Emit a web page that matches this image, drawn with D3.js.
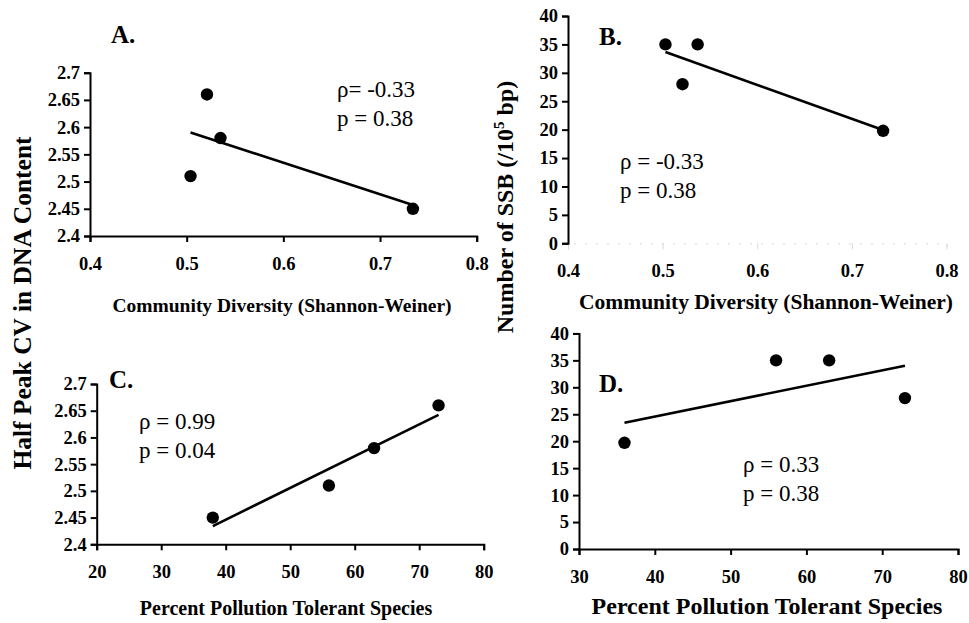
<!DOCTYPE html>
<html>
<head>
<meta charset="utf-8">
<script src="https://cdn.jsdelivr.net/npm/d3@7/dist/d3.min.js"></script>
<style>
    body { margin: 0; background: #fff; }
    svg { display: block; }
</style>
</head>
<body>
<svg width="969" height="623"></svg>
<script>
    // values
    var diversityA = [0.504, 0.521, 0.535, 0.734];
    var dnaCvA = [2.51, 2.66, 2.58, 2.45];

    var diversityB = [0.503, 0.521, 0.537, 0.733];
    var ssbB = [35, 28, 35, 19.8];

    var pollutionC = [38, 56, 63, 73];
    var dnaCvC = [2.45, 2.51, 2.58, 2.66];

    var pollutionD = [36, 56, 63, 73];
    var ssbD = [19.7, 35, 35, 28];

    var cvTicks = [2.4, 2.45, 2.5, 2.55, 2.6, 2.65, 2.7];
    var ssbTicks = [0, 5, 10, 15, 20, 25, 30, 35, 40];
    var diversityTicks = [0.4, 0.5, 0.6, 0.7, 0.8];
    var pollutionTicksC = [20, 30, 40, 50, 60, 70, 80];
    var pollutionTicksD = [30, 40, 50, 60, 70, 80];

    var statsA = ["\u03c1= -0.33", "p = 0.38"];
    var statsB = ["\u03c1 = -0.33", "p = 0.38"];
    var statsC = ["\u03c1 = 0.99", "p = 0.04"];
    var statsD = ["\u03c1 = 0.33", "p = 0.38"];

    var serif = "'Liberation Serif', 'Times New Roman', 'DejaVu Serif', serif";
    var svg = d3.select("svg");

    function font(sel, size, bold) {
        sel.style("font-family", serif)
            .style("font-size", size + "px")
            .style("font-weight", bold ? "bold" : "normal")
            .style("fill", "#000");
        return sel;
    }

    // least squares line through the points
    function fit(xs, ys) {
        var mx = d3.mean(xs), my = d3.mean(ys);
        var sxy = 0, sxx = 0;
        for (var i = 0; i < xs.length; i++) {
            sxy += (xs[i] - mx) * (ys[i] - my);
            sxx += (xs[i] - mx) * (xs[i] - mx);
        }
        var b = sxy / sxx;
        var x0 = d3.min(xs), x1 = d3.max(xs);
        return [{x: x0, y: my + b * (x0 - mx)}, {x: x1, y: my + b * (x1 - mx)}];
    }

    function panel(p) {
        var x = d3.scaleLinear().domain(d3.extent(p.xTicks)).range([p.left, p.right]);
        var y = d3.scaleLinear().domain(d3.extent(p.yTicks)).range([p.bottom, p.top]);
        var fmt = function (d) { return String(+d.toFixed(2)); };

        var xa = svg.append("g")
            .attr("transform", "translate(0," + p.bottom + ")")
            .call(d3.axisBottom(x).tickValues(p.xTicks).tickFormat(fmt).tickSizeOuter(0).tickSize(6).tickPadding(15));
        xa.selectAll("path, line").attr("stroke", p.faintX ? "#d8d8d8" : "#000")
            .attr("stroke-width", p.faintX ? 1 : 2);
        if (p.faintX) xa.select("path").attr("stroke-dasharray", "2,9");
        font(xa.selectAll("text"), 18.5, true);

        var ya = svg.append("g")
            .attr("transform", "translate(" + p.left + ",0)")
            .call(d3.axisLeft(y).tickValues(p.yTicks).tickFormat(fmt).tickSizeOuter(0).tickSize(6).tickPadding(4));
        ya.selectAll("path, line").attr("stroke", "#000").attr("stroke-width", 2);
        font(ya.selectAll("text"), 18.5, true);

        var line = d3.line()
            .x(function (d) { return x(d.x); })
            .y(function (d) { return y(d.y); });
        svg.append("path")
            .datum(fit(p.xs, p.ys))
            .attr("fill", "none")
            .attr("stroke", "#000")
            .attr("stroke-width", 2.6)
            .attr("d", line);

        svg.append("g").selectAll("circle")
            .data(p.xs)
            .join("circle")
            .attr("cx", function (d) { return x(d); })
            .attr("cy", function (d, i) { return y(p.ys[i]); })
            .attr("r", 6.2)
            .attr("fill", "#000");

        font(svg.append("text")
            .attr("x", p.tag[1]).attr("y", p.tag[2])
            .text(p.tag[0]), 25, true);

        font(svg.append("g").selectAll("text")
            .data(p.stats)
            .join("text")
            .attr("x", p.statPos[0])
            .attr("y", function (d, i) { return p.statPos[1] + i * 29; })
            .text(function (d) { return d; }), 23, false);

        font(svg.append("text")
            .attr("text-anchor", "middle")
            .attr("x", p.xTitlePos[0]).attr("y", p.xTitlePos[1])
            .text(p.xTitle), p.xTitleSize, true);
    }

    panel({
        xs: diversityA, ys: dnaCvA, xTicks: diversityTicks, yTicks: cvTicks,
        left: 90, right: 476.7, top: 72.7, bottom: 236,
        tag: ["A.", 111, 43], stats: statsA, statPos: [337, 97],
        xTitle: "Community Diversity (Shannon-Weiner)", xTitlePos: [282, 312], xTitleSize: 19.5
    });
    panel({
        xs: diversityB, ys: ssbB, xTicks: diversityTicks, yTicks: ssbTicks,
        left: 568, right: 946.5, top: 16, bottom: 243.3, faintX: true,
        tag: ["B.", 599, 45], stats: statsB, statPos: [620, 169],
        xTitle: "Community Diversity (Shannon-Weiner)", xTitlePos: [766, 309], xTitleSize: 21.5
    });
    panel({
        xs: pollutionC, ys: dnaCvC, xTicks: pollutionTicksC, yTicks: cvTicks,
        left: 96.7, right: 483.7, top: 384, bottom: 544.3,
        tag: ["C.", 109, 388], stats: statsC, statPos: [139, 429],
        xTitle: "Percent Pollution Tolerant Species", xTitlePos: [286, 615], xTitleSize: 20
    });
    panel({
        xs: pollutionD, ys: ssbD, xTicks: pollutionTicksD, yTicks: ssbTicks,
        left: 579, right: 958, top: 333.4, bottom: 549,
        tag: ["D.", 599, 392], stats: statsD, statPos: [743, 472],
        xTitle: "Percent Pollution Tolerant Species", xTitlePos: [767, 614], xTitleSize: 24
    });

    // shared y titles
    font(svg.append("text")
        .attr("text-anchor", "middle")
        .attr("transform", "translate(31,303) rotate(-90)")
        .text("Half Peak CV in DNA Content"), 25.5, true);

    var ssbTitle = font(svg.append("text")
        .attr("text-anchor", "middle")
        .attr("transform", "translate(513,207) rotate(-90)"), 24, true);
    ssbTitle.append("tspan").text("Number of SSB (/10");
    ssbTitle.append("tspan").attr("dy", -9).style("font-size", "15px").text("5");
    ssbTitle.append("tspan").attr("dy", 9).text(" bp)");
</script>
</body>
</html>
